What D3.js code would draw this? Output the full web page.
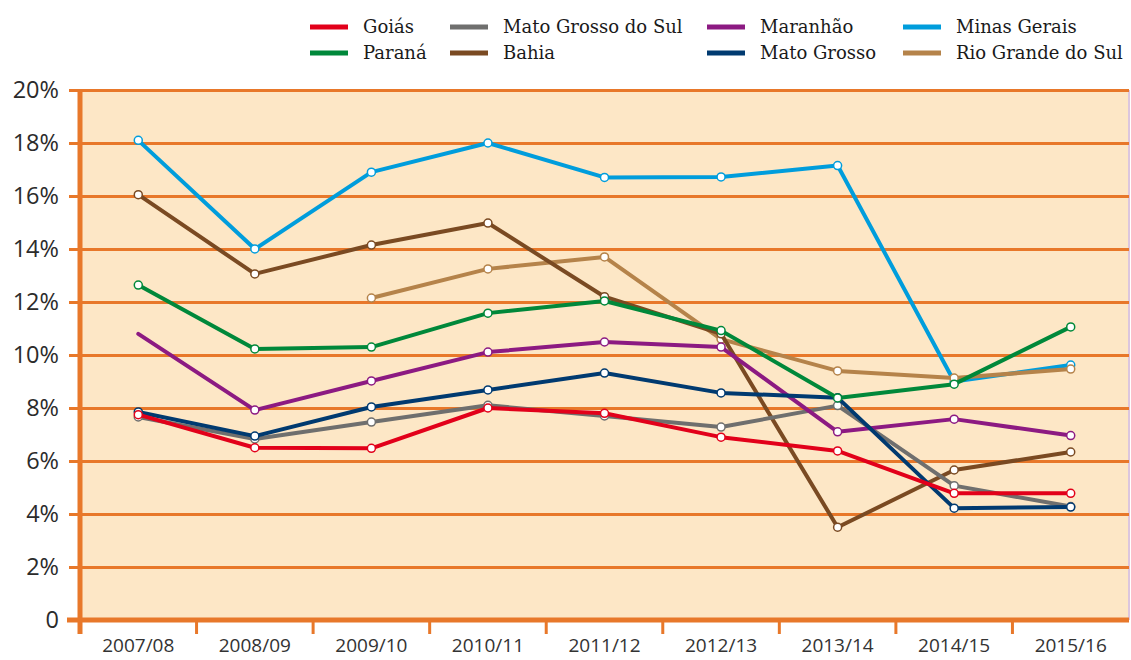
<!DOCTYPE html>
<html>
<head>
<meta charset="utf-8">
<script src="https://cdn.jsdelivr.net/npm/d3@7"></script>
<style>
  body { margin: 0; background: #fff; }
  svg { display: block; }
</style>
</head>
<body>
<svg id="chart" width="1131" height="660"></svg>
<script>
// seasons on the x axis
var seasons = ['2007/08', '2008/09', '2009/10', '2010/11', '2011/12', '2012/13', '2013/14', '2014/15', '2015/16'];
var yTicks = [0, 2, 4, 6, 8, 10, 12, 14, 16, 18, 20];

// values in %, null = no value
var goias = [7.75, 6.5, 6.48, 8.0, 7.8, 6.9, 6.38, 4.78, 4.78];
var matoGrossoDoSul = [7.66, 6.83, 7.47, 8.1, 7.7, 7.28, 8.09, 5.07, 4.28];
var maranhao = [10.8, 7.92, 9.02, 10.11, 10.49, 10.3, 7.1, 7.58, 6.96];
var minasGerais = [18.1, 14.0, 16.9, 18.0, 16.7, 16.72, 17.15, 9.0, 9.62];
var parana = [12.64, 10.23, 10.3, 11.58, 12.04, 10.92, 8.38, 8.9, 11.06];
var bahia = [16.05, 13.06, 14.15, 14.98, 12.2, 10.8, 3.5, 5.66, 6.34];
var matoGrosso = [7.85, 6.94, 8.04, 8.68, 9.32, 8.57, 8.39, 4.22, 4.26];
var rioGrandeDoSul = [null, null, 12.15, 13.25, 13.7, 10.6, 9.4, 9.13, 9.47];

var series = [
	{name: 'Goiás', color: '#e2001a', values: goias},
	{name: 'Paraná', color: '#00883a', values: parana},
	{name: 'Mato Grosso do Sul', color: '#6f6f6e', values: matoGrossoDoSul},
	{name: 'Bahia', color: '#7a4a22', values: bahia},
	{name: 'Maranhão', color: '#8c1a82', values: maranhao},
	{name: 'Mato Grosso', color: '#003a70', values: matoGrosso},
	{name: 'Minas Gerais', color: '#009ddc', values: minasGerais},
	{name: 'Rio Grande do Sul', color: '#b5834a', values: rioGrandeDoSul}
];

// drawing order (bottom first)
var drawOrder = ['Minas Gerais', 'Rio Grande do Sul', 'Bahia', 'Mato Grosso do Sul', 'Maranhão', 'Mato Grosso', 'Goiás', 'Paraná'];

var orange = '#e8782a';
var svg = d3.select('#chart');
var margin = {top: 90, right: 2, bottom: 40, left: 80};
var width = 1129 - margin.left;
var height = 620 - margin.top;

var x = d3.scaleBand().domain(seasons).range([0, width]);
var y = d3.scaleLinear().domain([0, 20]).range([height, 0]);

var g = svg.append('g').attr('transform', 'translate(' + margin.left + ',' + margin.top + ')');

g.append('rect')
	.attr('x', 0).attr('y', 0)
	.attr('width', width).attr('height', height)
	.attr('fill', '#fde7c6');

g.append('line')
	.attr('x1', width).attr('x2', width)
	.attr('y1', 0).attr('y2', height)
	.attr('stroke', '#dcc6de').attr('stroke-width', 2);

// gridlines + left ticks
var yAxis = g.append('g')
	.call(d3.axisLeft(y).tickValues(yTicks).tickSize(11).tickFormat(function (d) {
		return d === 0 ? '0' : d + '%';
	}));
yAxis.select('.domain').remove();
yAxis.selectAll('.tick line').attr('stroke', orange).attr('stroke-width', 3)
	.attr('x2', width).attr('x1', -11);
yAxis.selectAll('.tick text')
	.attr('x', -21)
	.attr('fill', '#2b2b2b')
	.style('font-family', '"Open Sans", sans-serif')
	.style('font-size', '23.5px');

// x axis
var xAxis = g.append('g')
	.attr('transform', 'translate(0,' + height + ')')
	.call(d3.axisBottom(x).tickSize(0).tickPadding(19));
xAxis.select('.domain').remove();
xAxis.selectAll('.tick text')
	.attr('fill', '#333')
	.style('font-family', '"Open Sans", sans-serif')
	.style('font-size', '19px');

g.append('g').selectAll('line')
	.data(seasons.slice(1))
	.enter().append('line')
	.attr('x1', function (d) { return x(d); })
	.attr('x2', function (d) { return x(d); })
	.attr('y1', height).attr('y2', height + 14)
	.attr('stroke', orange).attr('stroke-width', 3);

g.append('line')
	.attr('x1', -13).attr('x2', width)
	.attr('y1', height).attr('y2', height)
	.attr('stroke', orange).attr('stroke-width', 5);
g.append('line')
	.attr('x1', 0).attr('x2', 0)
	.attr('y1', 0).attr('y2', height + 14)
	.attr('stroke', orange).attr('stroke-width', 5);

// lines
var line = d3.line()
	.defined(function (d) { return d != null; })
	.x(function (d, i) { return x(seasons[i]) + x.bandwidth() / 2; })
	.y(function (d) { return y(d); });

var byName = {};
series.forEach(function (s) { byName[s.name] = s; });

drawOrder.forEach(function (name) {
	var s = byName[name];
	var sg = g.append('g');
	sg.append('path')
		.datum(s.values)
		.attr('fill', 'none')
		.attr('stroke', s.color)
		.attr('stroke-width', 4)
		.attr('stroke-linejoin', 'round')
		.attr('stroke-linecap', 'round')
		.attr('d', line);
	sg.selectAll('circle')
		.data(s.values.map(function (v, i) { return {v: v, i: i}; }).filter(function (d) {
			// Maranhão has no marker on its first season
			return d.v != null && !(name === 'Maranhão' && d.i === 0);
		}))
		.enter().append('circle')
		.attr('cx', function (d) { return x(seasons[d.i]) + x.bandwidth() / 2; })
		.attr('cy', function (d) { return y(d.v); })
		.attr('r', 4)
		.attr('fill', '#fff')
		.attr('stroke', s.color)
		.attr('stroke-width', 1.5);
});

// legend, 4 columns x 2 rows
var legendCols = [310, 450, 707, 903];
var legend = svg.append('g')
	.selectAll('g')
	.data(series)
	.enter().append('g')
	.attr('transform', function (d, i) {
		return 'translate(' + legendCols[Math.floor(i / 2)] + ',' + (27 + (i % 2) * 26) + ')';
	});
legend.append('line')
	.attr('x1', 0).attr('x2', 38)
	.attr('stroke', function (d) { return d.color; })
	.attr('stroke-width', 5);
legend.append('text')
	.attr('x', 53)
	.attr('dy', '0.35em')
	.attr('fill', '#1a1a1a')
	.style('font-family', '"DejaVu Serif", serif')
	.style('font-size', '18px')
	.text(function (d) { return d.name; });
</script>
</body>
</html>
